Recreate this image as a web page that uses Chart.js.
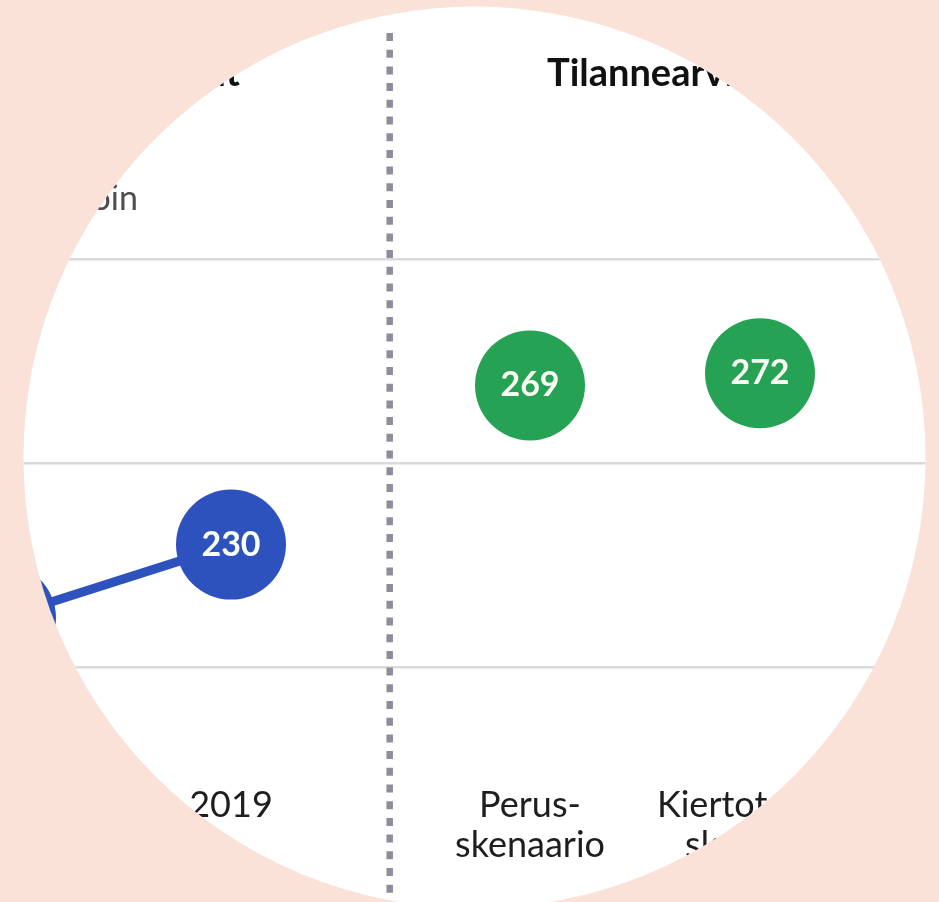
<!DOCTYPE html>
<html lang="fi">
<head>
<meta charset="utf-8">
<title>Tilannearvio</title>
<script src="https://cdn.jsdelivr.net/npm/chart.js@4.4.1/dist/chart.umd.min.js"></script>
<style>
	html, body { margin: 0; padding: 0; }
	body { width: 939px; height: 902px; background: #fae2d8; overflow: hidden; font-family: Lato, sans-serif; }
	.lens { position: absolute; left: 0; top: 0; width: 939px; height: 902px; background: #fff; clip-path: circle(451px at 474.5px 457.5px); overflow: hidden; }
	.lens canvas { position: absolute; left: -344px; top: 0; }
	.panel-title { position: absolute; top: 52px; font-weight: bold; font-size: 38px; line-height: 38px; color: #111; white-space: nowrap; }
	.left-title { right: 699px; }
	.right-title { left: 547px; }
	.subtitle { position: absolute; right: 801px; top: 180px; font-size: 34px; line-height: 34px; color: #4d4d4d; white-space: nowrap; }
</style>
</head>
<body>
<div class="lens">
	<canvas id="myChart" width="1610" height="902"></canvas>
	<div class="panel-title left-title">Toteutunut</div>
	<div class="panel-title right-title">Tilannearvio 2030</div>
	<div class="subtitle">Miljoonaa tonnia, laskettu kiloin</div>
</div>
<script>
const historyLabels = ['2018', '2019'];
const historyValues = [212, 230];
const scenarioLabels = [['Perus-', 'skenaario'], ['Kiertotalous-', 'skenaario']];
const scenarioValues = [269, 272];
const yTicks = [200, 250, 300];

// scenarios start a bit further right than one normal step
const scenarioGap = 1.3;
const separatorAt = 1.69;

const blue = '#2d52be';
const green = '#25a254';

const historyX = historyLabels.map((l, i) => i);
const scenarioX = scenarioLabels.map((l, i) => historyX[historyX.length - 1] + scenarioGap + i);
const tickPositions = historyX.concat(scenarioX);
const tickLabels = historyLabels.concat(scenarioLabels);

const separator = {
	id: 'separator',
	beforeDatasetsDraw(chart) {
		const ctx = chart.ctx;
		const x = chart.scales.x.getPixelForValue(separatorAt);
		ctx.save();
		ctx.strokeStyle = '#8f8d9b';
		ctx.lineWidth = 6.5;
		ctx.setLineDash([8, 8.7]);
		ctx.beginPath();
		ctx.moveTo(x, 33);
		ctx.lineTo(x, chart.height);
		ctx.stroke();
		ctx.restore();
	}
};

const valueLabels = {
	id: 'valueLabels',
	afterDatasetsDraw(chart) {
		const ctx = chart.ctx;
		ctx.save();
		ctx.font = 'bold 34px Lato';
		ctx.fillStyle = '#fbfff4';
		ctx.textAlign = 'center';
		ctx.textBaseline = 'middle';
		chart.data.datasets.forEach((ds, i) => {
			chart.getDatasetMeta(i).data.forEach((pt, j) => {
				ctx.fillText(ds.data[j].y, pt.x, pt.y);
			});
		});
		ctx.restore();
	}
};

Chart.defaults.font.family = 'Lato';

const ctx = document.getElementById('myChart').getContext('2d');
const myChart = new Chart(ctx, {
	type: 'scatter',
	data: {
		datasets: [{
			data: historyX.map((x, i) => ({ x: x, y: historyValues[i] })),
			showLine: true,
			borderColor: blue,
			borderWidth: 9,
			pointRadius: 55,
			pointHoverRadius: 55,
			pointBackgroundColor: blue,
			pointBorderColor: blue,
			pointBorderWidth: 0,
			clip: false
		}, {
			data: scenarioX.map((x, i) => ({ x: x, y: scenarioValues[i] })),
			showLine: false,
			pointRadius: 55,
			pointHoverRadius: 55,
			pointBackgroundColor: green,
			pointBorderColor: green,
			pointBorderWidth: 0,
			clip: false
		}]
	},
	options: {
		responsive: false,
		animation: false,
		events: [],
		layout: { autoPadding: false, padding: { top: 259, left: 0, right: 0, bottom: 0 } },
		plugins: {
			legend: { display: false },
			tooltip: { enabled: false }
		},
		scales: {
			x: {
				type: 'linear',
				min: -1.5,
				max: 5.5,
				grid: { display: false, drawTicks: false },
				border: { display: false },
				afterBuildTicks: axis => { axis.ticks = tickPositions.map(v => ({ value: v })); },
				afterFit: axis => { axis.height = 235; },
				ticks: {
					autoSkip: false,
					maxRotation: 0,
					padding: 119,
					color: '#1e1e1e',
					font: { size: 36, lineHeight: 1.1 },
					callback: (v, i) => tickLabels[i]
				}
			},
			y: {
				min: yTicks[0],
				max: yTicks[yTicks.length - 1],
				afterBuildTicks: axis => { axis.ticks = yTicks.map(v => ({ value: v })); },
				ticks: { display: false },
				grid: { color: '#dadada', lineWidth: 2.5, drawTicks: false },
				border: { display: false }
			}
		}
	},
	plugins: [separator, valueLabels]
});
</script>
</body>
</html>
